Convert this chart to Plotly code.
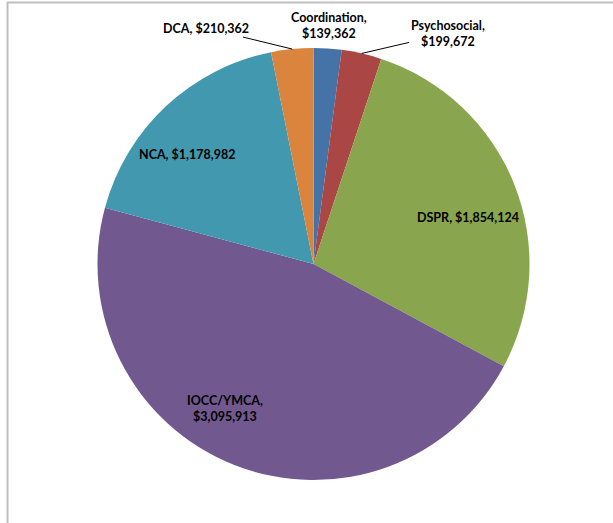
import math
import plotly.graph_objects as go

labels = ["Coordination", "Psychosocial", "DSPR", "IOCC/YMCA", "NCA", "DCA"]
values = [139362, 199672, 1854124, 3095913, 1178982, 210362]
colors = ["#4572A7", "#AA4643", "#89A54E", "#71588F", "#4198AF", "#DB843D"]
label_texts = ["Coordination,<br>$139,362", "Psychosocial,<br>$199,672",
               "DSPR, $1,854,124", "IOCC/YMCA,<br>$3,095,913",
               "NCA, $1,178,982", "DCA, $210,362"]

W, H = 613, 523
CX, CY, R = 313.5, 264.0, 216.0

fig = go.Figure(go.Pie(
    labels=labels, values=values, sort=False, direction="clockwise", rotation=0,
    marker=dict(colors=colors, line=dict(width=0)),
    textinfo="none", hoverinfo="label+value", showlegend=False,
    domain=dict(x=[(CX - R) / W, (CX + R) / W], y=[1 - (CY + R) / H, 1 - (CY - R) / H]),
))

total = sum(values)
cum = 0
mids = []
for v in values:
    mids.append((cum + v / 2) / total * 2 * math.pi)
    cum += v

def pt(theta, r):
    x = CX + r * math.sin(theta)
    y = CY - r * math.cos(theta)
    return x / W, 1 - y / H

font = dict(family="Lato", size=12.5, color="#000000")
# label placement style: (kind, radius factor, xshift, yshift, ax, ay)
style = {
    "Coordination": ("plain", 1.105, 0, 0, 0, 0),
    "Psychosocial": ("arrow", 1.0, 0, 0, 86, -20),
    "DSPR": ("plain", 0.78, -2, -16, 0, 0),
    "IOCC/YMCA": ("plain", 0.78, -26, 12, 0, 0),
    "NCA": ("plain", 0.78, -11, -13, 0, 0),
    "DCA": ("arrow", 1.0, 0, 0, -86, -21),
}
ann = []
for lab, txt, th in zip(labels, label_texts, mids):
    kind, rf, xs, ys, ax, ay = style[lab]
    x, y = pt(th, rf * R)
    if kind == "plain":
        ann.append(dict(x=x, y=y, xref="paper", yref="paper", text="<b>" + txt + "</b>",
                        showarrow=False, font=font, xshift=xs, yshift=ys, align="center",
                        xanchor="center", yanchor="middle"))
    else:
        ann.append(dict(x=x, y=y, xref="paper", yref="paper", text="<b>" + txt + "</b>",
                        showarrow=True, arrowhead=0, arrowwidth=1, arrowcolor="#000000",
                        ax=ax, ay=ay, font=font, align="center", standoff=0))

fig.update_layout(
    width=W, height=H, margin=dict(l=0, r=0, t=0, b=0),
    paper_bgcolor="white", plot_bgcolor="white",
    annotations=ann,
    shapes=[
        dict(type="line", xref="paper", yref="paper", x0=7 / W, x1=1.0, y0=1 - 2.5 / H, y1=1 - 2.5 / H,
             line=dict(color="#BFBFBF", width=2)),
        dict(type="line", xref="paper", yref="paper", x0=7.5 / W, x1=7.5 / W, y0=0, y1=1 - 2 / H,
             line=dict(color="#BFBFBF", width=2)),
    ],
)
fig.write_html("out.html")
